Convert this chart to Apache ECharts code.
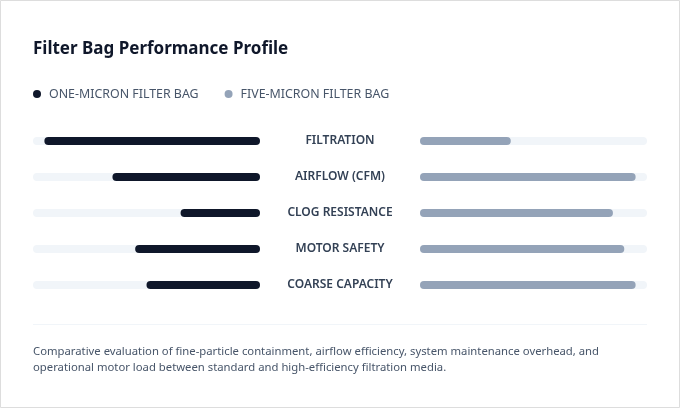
<!DOCTYPE html>
<html>
<head>
<meta charset="utf-8">
<script src="https://cdn.jsdelivr.net/npm/echarts@6/dist/echarts.min.js"></script>
<style>
html,body{margin:0;padding:0;background:#fff;}
#chart{width:680px;height:408px;}
</style>
</head>
<body>
<div id="chart"></div>
<script>
const categories = ['FILTRATION', 'AIRFLOW (CFM)', 'CLOG RESISTANCE', 'MOTOR SAFETY', 'COARSE CAPACITY'];
const oneMicron = [95, 65, 35, 55, 50];
const fiveMicron = [40, 95, 85, 90, 95];
const seriesNames = ['ONE-MICRON FILTER BAG', 'FIVE-MICRON FILTER BAG'];
const titleText = 'Filter Bag Performance Profile';
const footerText = 'Comparative evaluation of fine-particle containment, airflow efficiency, system maintenance overhead, and\noperational motor load between standard and high-efficiency filtration media.';

const chart = echarts.init(document.getElementById('chart'), null, {renderer: 'canvas'});
const FONT = '"Noto Sans", sans-serif';
chart.setOption({
  backgroundColor: '#fff',
  animation: false,
  title: {
    text: titleText, left: 33, top: 41, padding: 0,
    textStyle: {fontFamily: FONT, fontSize: 17, fontWeight: 'bold', color: '#0f172a'}
  },
  legend: {
    left: 33, top: 88, padding: 0, itemGap: 26, itemWidth: 8, itemHeight: 8, icon: 'circle',
    data: seriesNames,
    textStyle: {fontFamily: FONT, fontSize: 12.4, color: '#475569', padding: [0,0,0,3]}
  },
  grid: [
    {left: 33, width: 227, top: 123, height: 180},
    {left: 420, width: 227, top: 123, height: 180}
  ],
  xAxis: [
    {gridIndex: 0, type: 'value', min: 0, max: 100, inverse: true, show: false},
    {gridIndex: 1, type: 'value', min: 0, max: 100, show: false}
  ],
  yAxis: [
    {gridIndex: 0, type: 'category', data: categories, inverse: true, show: false},
    {gridIndex: 1, type: 'category', data: categories, inverse: true,
     axisLine: {show: false}, axisTick: {show: false},
     axisLabel: {show: true, margin: 80, align: 'center', padding: [6,0,0,0], fontFamily: FONT, fontSize: 12, fontWeight: 600, color: '#334155'}}
  ],
  series: [
    {name: seriesNames[0], type: 'bar', xAxisIndex: 0, yAxisIndex: 0, data: oneMicron, barWidth: 8,
     itemStyle: {color: '#0f172a', borderRadius: 4}, showBackground: true,
     backgroundStyle: {color: '#f1f5f9', borderRadius: 4}},
    {name: seriesNames[1], type: 'bar', xAxisIndex: 1, yAxisIndex: 1, data: fiveMicron, barWidth: 8,
     itemStyle: {color: '#94a3b8', borderRadius: 4}, showBackground: true,
     backgroundStyle: {color: '#f1f5f9', borderRadius: 4}}
  ],
  graphic: [
    {type: 'rect', shape: {x: 0.5, y: 0.5, width: 679, height: 407}, style: {fill: 'none', stroke: '#dddddd', lineWidth: 1}, silent: true},
    {type: 'line', shape: {x1: 33, y1: 324.5, x2: 647, y2: 324.5}, style: {stroke: '#f1f5f9', lineWidth: 1}},
    {type: 'text', left: 33, top: 344, style: {text: footerText, fontFamily: FONT, fontSize: 11.3, lineHeight: 16, fill: '#475569'}}
  ]
});
</script>
</body>
</html>
